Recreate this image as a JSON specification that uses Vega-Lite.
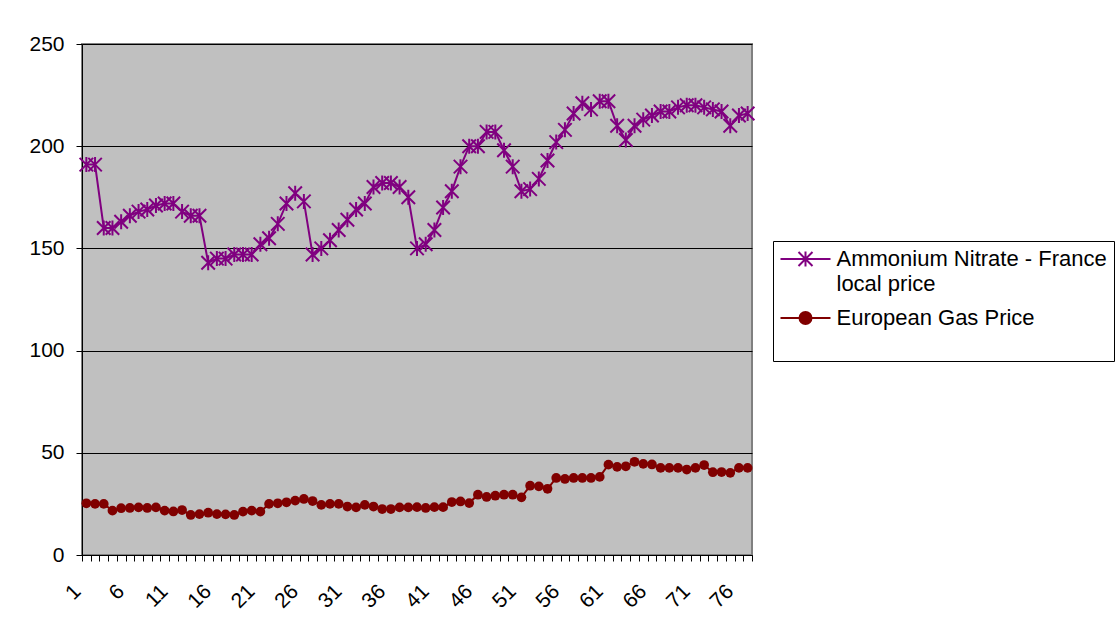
{
  "$schema": "https://vega.github.io/schema/vega-lite/v6.json",
  "width": 670,
  "height": 511,
  "autosize": {"type": "none"},
  "padding": {"left": 82, "top": 44, "right": 365, "bottom": 80},
  "background": "white",
  "config": {
    "view": {"fill": "#C0C0C0", "stroke": "#808080", "strokeWidth": 2},
    "font": "Liberation Sans",
    "axis": {"labelFont": "Liberation Sans", "labelColor": "black", "domainColor": "black", "tickColor": "black", "labelFontSize": 21, "title": null}
  },
  "data": {"values": [
    {"t":1,"series":"Ammonium Nitrate - France local price","value":191},
    {"t":2,"series":"Ammonium Nitrate - France local price","value":191},
    {"t":3,"series":"Ammonium Nitrate - France local price","value":160},
    {"t":4,"series":"Ammonium Nitrate - France local price","value":160},
    {"t":5,"series":"Ammonium Nitrate - France local price","value":163},
    {"t":6,"series":"Ammonium Nitrate - France local price","value":166},
    {"t":7,"series":"Ammonium Nitrate - France local price","value":168},
    {"t":8,"series":"Ammonium Nitrate - France local price","value":169},
    {"t":9,"series":"Ammonium Nitrate - France local price","value":171},
    {"t":10,"series":"Ammonium Nitrate - France local price","value":172},
    {"t":11,"series":"Ammonium Nitrate - France local price","value":172},
    {"t":12,"series":"Ammonium Nitrate - France local price","value":168},
    {"t":13,"series":"Ammonium Nitrate - France local price","value":166},
    {"t":14,"series":"Ammonium Nitrate - France local price","value":166},
    {"t":15,"series":"Ammonium Nitrate - France local price","value":143},
    {"t":16,"series":"Ammonium Nitrate - France local price","value":145},
    {"t":17,"series":"Ammonium Nitrate - France local price","value":145},
    {"t":18,"series":"Ammonium Nitrate - France local price","value":147},
    {"t":19,"series":"Ammonium Nitrate - France local price","value":147},
    {"t":20,"series":"Ammonium Nitrate - France local price","value":147},
    {"t":21,"series":"Ammonium Nitrate - France local price","value":152},
    {"t":22,"series":"Ammonium Nitrate - France local price","value":155},
    {"t":23,"series":"Ammonium Nitrate - France local price","value":162},
    {"t":24,"series":"Ammonium Nitrate - France local price","value":172},
    {"t":25,"series":"Ammonium Nitrate - France local price","value":177},
    {"t":26,"series":"Ammonium Nitrate - France local price","value":173},
    {"t":27,"series":"Ammonium Nitrate - France local price","value":147},
    {"t":28,"series":"Ammonium Nitrate - France local price","value":150},
    {"t":29,"series":"Ammonium Nitrate - France local price","value":154},
    {"t":30,"series":"Ammonium Nitrate - France local price","value":159},
    {"t":31,"series":"Ammonium Nitrate - France local price","value":164},
    {"t":32,"series":"Ammonium Nitrate - France local price","value":169},
    {"t":33,"series":"Ammonium Nitrate - France local price","value":172},
    {"t":34,"series":"Ammonium Nitrate - France local price","value":180},
    {"t":35,"series":"Ammonium Nitrate - France local price","value":182},
    {"t":36,"series":"Ammonium Nitrate - France local price","value":182},
    {"t":37,"series":"Ammonium Nitrate - France local price","value":180},
    {"t":38,"series":"Ammonium Nitrate - France local price","value":175},
    {"t":39,"series":"Ammonium Nitrate - France local price","value":150},
    {"t":40,"series":"Ammonium Nitrate - France local price","value":152},
    {"t":41,"series":"Ammonium Nitrate - France local price","value":159},
    {"t":42,"series":"Ammonium Nitrate - France local price","value":170},
    {"t":43,"series":"Ammonium Nitrate - France local price","value":178},
    {"t":44,"series":"Ammonium Nitrate - France local price","value":190},
    {"t":45,"series":"Ammonium Nitrate - France local price","value":200},
    {"t":46,"series":"Ammonium Nitrate - France local price","value":200},
    {"t":47,"series":"Ammonium Nitrate - France local price","value":207},
    {"t":48,"series":"Ammonium Nitrate - France local price","value":207},
    {"t":49,"series":"Ammonium Nitrate - France local price","value":198},
    {"t":50,"series":"Ammonium Nitrate - France local price","value":190},
    {"t":51,"series":"Ammonium Nitrate - France local price","value":178},
    {"t":52,"series":"Ammonium Nitrate - France local price","value":179},
    {"t":53,"series":"Ammonium Nitrate - France local price","value":184},
    {"t":54,"series":"Ammonium Nitrate - France local price","value":193},
    {"t":55,"series":"Ammonium Nitrate - France local price","value":202},
    {"t":56,"series":"Ammonium Nitrate - France local price","value":208},
    {"t":57,"series":"Ammonium Nitrate - France local price","value":216},
    {"t":58,"series":"Ammonium Nitrate - France local price","value":221},
    {"t":59,"series":"Ammonium Nitrate - France local price","value":218},
    {"t":60,"series":"Ammonium Nitrate - France local price","value":222},
    {"t":61,"series":"Ammonium Nitrate - France local price","value":222},
    {"t":62,"series":"Ammonium Nitrate - France local price","value":210},
    {"t":63,"series":"Ammonium Nitrate - France local price","value":203},
    {"t":64,"series":"Ammonium Nitrate - France local price","value":210},
    {"t":65,"series":"Ammonium Nitrate - France local price","value":213},
    {"t":66,"series":"Ammonium Nitrate - France local price","value":215},
    {"t":67,"series":"Ammonium Nitrate - France local price","value":217},
    {"t":68,"series":"Ammonium Nitrate - France local price","value":217},
    {"t":69,"series":"Ammonium Nitrate - France local price","value":219},
    {"t":70,"series":"Ammonium Nitrate - France local price","value":220},
    {"t":71,"series":"Ammonium Nitrate - France local price","value":220},
    {"t":72,"series":"Ammonium Nitrate - France local price","value":219},
    {"t":73,"series":"Ammonium Nitrate - France local price","value":218},
    {"t":74,"series":"Ammonium Nitrate - France local price","value":217},
    {"t":75,"series":"Ammonium Nitrate - France local price","value":210},
    {"t":76,"series":"Ammonium Nitrate - France local price","value":215},
    {"t":77,"series":"Ammonium Nitrate - France local price","value":216},
    {"t":1,"series":"European Gas Price","value":25.3},
    {"t":2,"series":"European Gas Price","value":25},
    {"t":3,"series":"European Gas Price","value":25},
    {"t":4,"series":"European Gas Price","value":21.7},
    {"t":5,"series":"European Gas Price","value":22.9},
    {"t":6,"series":"European Gas Price","value":23},
    {"t":7,"series":"European Gas Price","value":23.3},
    {"t":8,"series":"European Gas Price","value":23},
    {"t":9,"series":"European Gas Price","value":23.3},
    {"t":10,"series":"European Gas Price","value":21.7},
    {"t":11,"series":"European Gas Price","value":21.3},
    {"t":12,"series":"European Gas Price","value":22},
    {"t":13,"series":"European Gas Price","value":19.6},
    {"t":14,"series":"European Gas Price","value":20},
    {"t":15,"series":"European Gas Price","value":20.7},
    {"t":16,"series":"European Gas Price","value":20},
    {"t":17,"series":"European Gas Price","value":19.9},
    {"t":18,"series":"European Gas Price","value":19.6},
    {"t":19,"series":"European Gas Price","value":21.2},
    {"t":20,"series":"European Gas Price","value":21.7},
    {"t":21,"series":"European Gas Price","value":21.2},
    {"t":22,"series":"European Gas Price","value":25},
    {"t":23,"series":"European Gas Price","value":25.3},
    {"t":24,"series":"European Gas Price","value":25.8},
    {"t":25,"series":"European Gas Price","value":26.6},
    {"t":26,"series":"European Gas Price","value":27.4},
    {"t":27,"series":"European Gas Price","value":26.4},
    {"t":28,"series":"European Gas Price","value":24.5},
    {"t":29,"series":"European Gas Price","value":25},
    {"t":30,"series":"European Gas Price","value":25},
    {"t":31,"series":"European Gas Price","value":23.7},
    {"t":32,"series":"European Gas Price","value":23.3},
    {"t":33,"series":"European Gas Price","value":24.5},
    {"t":34,"series":"European Gas Price","value":23.7},
    {"t":35,"series":"European Gas Price","value":22.5},
    {"t":36,"series":"European Gas Price","value":22.5},
    {"t":37,"series":"European Gas Price","value":23.3},
    {"t":38,"series":"European Gas Price","value":23.3},
    {"t":39,"series":"European Gas Price","value":23.4},
    {"t":40,"series":"European Gas Price","value":23},
    {"t":41,"series":"European Gas Price","value":23.4},
    {"t":42,"series":"European Gas Price","value":23.4},
    {"t":43,"series":"European Gas Price","value":25.9},
    {"t":44,"series":"European Gas Price","value":26.2},
    {"t":45,"series":"European Gas Price","value":25.4},
    {"t":46,"series":"European Gas Price","value":29.5},
    {"t":47,"series":"European Gas Price","value":28.4},
    {"t":48,"series":"European Gas Price","value":29},
    {"t":49,"series":"European Gas Price","value":29.5},
    {"t":50,"series":"European Gas Price","value":29.5},
    {"t":51,"series":"European Gas Price","value":28.2},
    {"t":52,"series":"European Gas Price","value":33.9},
    {"t":53,"series":"European Gas Price","value":33.6},
    {"t":54,"series":"European Gas Price","value":32.4},
    {"t":55,"series":"European Gas Price","value":37.7},
    {"t":56,"series":"European Gas Price","value":37.2},
    {"t":57,"series":"European Gas Price","value":37.7},
    {"t":58,"series":"European Gas Price","value":37.7},
    {"t":59,"series":"European Gas Price","value":37.7},
    {"t":60,"series":"European Gas Price","value":38.2},
    {"t":61,"series":"European Gas Price","value":44.2},
    {"t":62,"series":"European Gas Price","value":43.1},
    {"t":63,"series":"European Gas Price","value":43.4},
    {"t":64,"series":"European Gas Price","value":45.6},
    {"t":65,"series":"European Gas Price","value":44.6},
    {"t":66,"series":"European Gas Price","value":44.3},
    {"t":67,"series":"European Gas Price","value":42.6},
    {"t":68,"series":"European Gas Price","value":42.6},
    {"t":69,"series":"European Gas Price","value":42.6},
    {"t":70,"series":"European Gas Price","value":41.8},
    {"t":71,"series":"European Gas Price","value":42.6},
    {"t":72,"series":"European Gas Price","value":44},
    {"t":73,"series":"European Gas Price","value":40.5},
    {"t":74,"series":"European Gas Price","value":40.6},
    {"t":75,"series":"European Gas Price","value":40.2},
    {"t":76,"series":"European Gas Price","value":42.6},
    {"t":77,"series":"European Gas Price","value":42.6}
  ]},
  "encoding": {
    "x": {
      "field": "t", "type": "ordinal",
      "scale": {"type": "band", "paddingInner": 0, "paddingOuter": 0},
      "axis": {
        "tickBand": "extent", "tickSize": 6, "labelAngle": -45, "labelAlign": "right", "labelBaseline": "middle",
        "labelPadding": 27, "labelOffset": -9, "labelOverlap": false, "grid": false,
        "labelExpr": "(datum.value - 1) % 5 == 0 ? datum.label : ''"
      }
    },
    "y": {
      "field": "value", "type": "quantitative",
      "scale": {"domain": [0, 250], "nice": false, "zero": true},
      "axis": {"values": [0, 50, 100, 150, 200, 250], "grid": true, "gridColor": "black", "gridOpacity": 1, "gridWidth": 1, "tickSize": 6, "labelPadding": 12}
    }
  },
  "layer": [
    {
      "mark": {"type": "line", "strokeWidth": 2},
      "encoding": {
        "color": {
          "field": "series", "type": "nominal",
          "scale": {"domain": ["Ammonium Nitrate - France local price", "European Gas Price"], "range": ["#800080", "#800000"]},
          "legend": {
            "orient": "none", "legendX": 691, "legendY": 197,
            "title": " ", "titleOrient": "bottom", "titleFontSize": 20,
            "fillColor": "white", "strokeColor": "black", "padding": 7,
            "symbolSize": 100, "symbolOffset": 14.5, "labelOffset": 20, "symbolStrokeWidth": 2,
            "labelFont": "Liberation Sans", "labelFontSize": 22, "labelColor": "black", "labelLimit": 500, "labelBaseline": "top",
            "labelExpr": "datum.label == 'Ammonium Nitrate - France local price' ? ['Ammonium Nitrate - France', 'local price'] : datum.label",
            "rowPadding": 11,
            "encode": {
              "symbols": {"update": {
                "shape": {"signal": "datum.value == 'European Gas Price' ? 'M-5,0L5,0M1.2,0A1.2,1.2 0 1,1 -1.2,0A1.2,1.2 0 1,1 1.2,0Z' : 'M-5,0L5,0M-1.4,-1.4L1.4,1.4M-1.4,1.4L1.4,-1.4M0,-1.5L0,1.5'"},
                "fill": {"signal": "datum.value == 'European Gas Price' ? '#800000' : 'transparent'"},
                "strokeWidth": {"value": 2}
              }},
              "labels": {"update": {"dy": {"value": -10.5}, "lineHeight": {"value": 25}}}
            }
          }
        }
      }
    },
    {
      "transform": [{"filter": "datum.series == 'Ammonium Nitrate - France local price'"}],
      "mark": {"type": "point", "shape": "M-0.9,-0.9L0.9,0.9M-0.9,0.9L0.9,-0.9M0,-1L0,1", "size": 225, "filled": false, "stroke": "#800080", "strokeWidth": 2, "opacity": 1}
    },
    {
      "transform": [{"filter": "datum.series == 'European Gas Price'"}],
      "mark": {"type": "circle", "size": 95, "color": "#800000", "opacity": 1}
    }
  ]
}
